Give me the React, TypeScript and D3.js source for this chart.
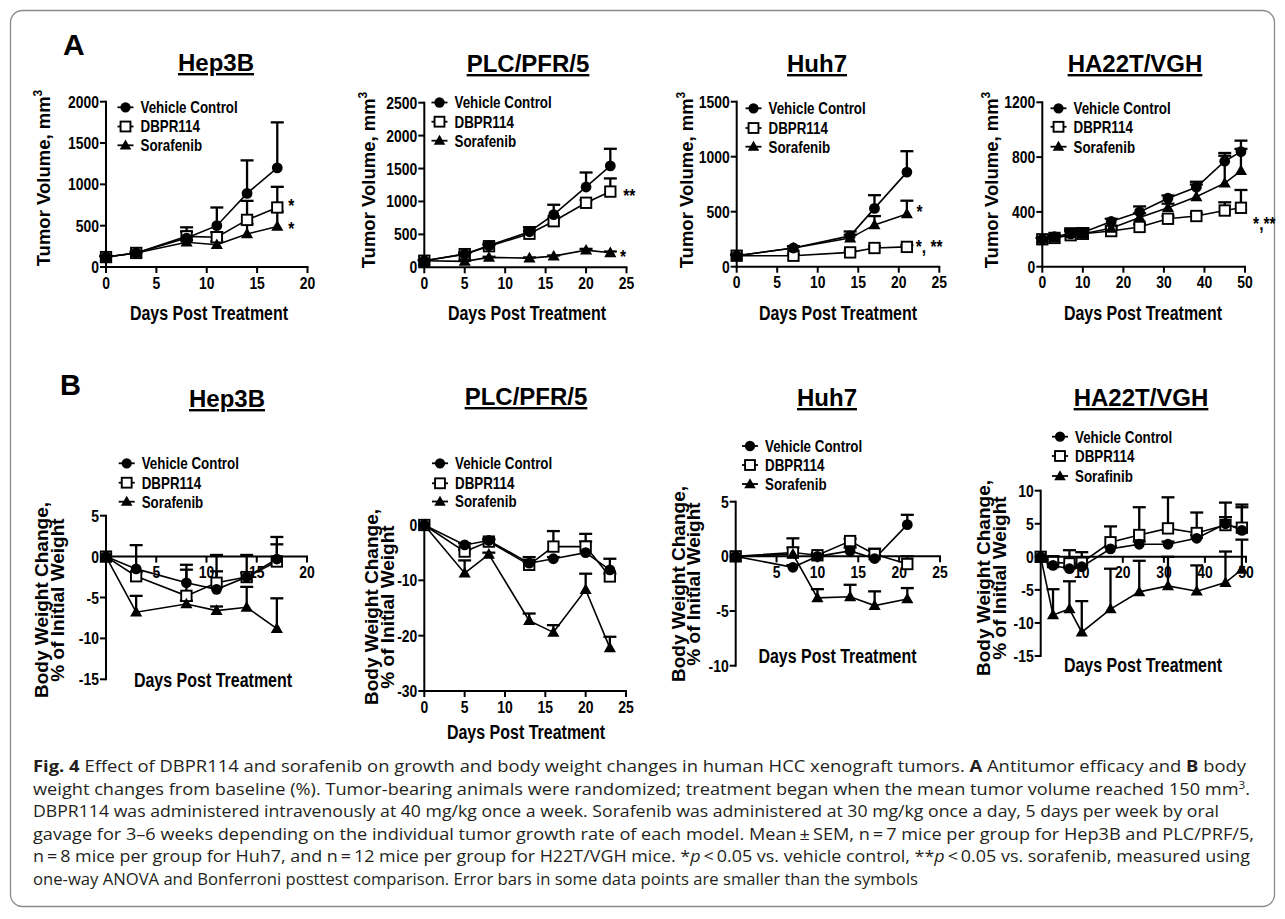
import React from "react";
import * as d3 from "d3";

// ---------------- DATA ----------------
const legendNames = ["Vehicle Control", "DBPR114", "Sorafenib"];
const legendNamesHA22TBody = ["Vehicle Control", "DBPR114", "Sorafinib"];
const cellLines = ["Hep3B", "PLC/PFR/5", "Huh7", "HA22T/VGH"];

// A: tumor volume (mm3)
const hep3bTumorDays = [0, 3, 8, 11, 14, 17];
const hep3bTumorVehicle = [120, 170, 350, 500, 890, 1200];
const hep3bTumorVehicleErr = [15, 15, 130, 220, 400, 550];
const hep3bTumorDbpr = [120, 170, 370, 360, 570, 720];
const hep3bTumorDbprErr = [10, 10, 60, 60, 230, 250];
const hep3bTumorSora = [120, 170, 300, 270, 400, 490];
const hep3bTumorSoraErr = [10, 10, 30, 40, 120, 180];

const plcTumorDays = [0, 5, 8, 13, 16, 20, 23];
const plcTumorVehicle = [100, 200, 330, 540, 800, 1220, 1540];
const plcTumorVehicleErr = [10, 20, 30, 70, 150, 220, 260];
const plcTumorDbpr = [100, 200, 320, 510, 700, 980, 1150];
const plcTumorDbprErr = [10, 20, 20, 40, 40, 40, 200];
const plcTumorSora = [100, 90, 150, 140, 170, 260, 220];
const plcTumorSoraErr = [10, 10, 10, 10, 10, 20, 20];

const huh7TumorDays = [0, 7, 14, 17, 21];
const huh7TumorVehicle = [100, 170, 280, 530, 860];
const huh7TumorVehicleErr = [10, 15, 40, 120, 190];
const huh7TumorDbpr = [100, 100, 130, 170, 180];
const huh7TumorDbprErr = [5, 10, 10, 15, 15];
const huh7TumorSora = [100, 170, 260, 380, 480];
const huh7TumorSoraErr = [10, 15, 30, 80, 120];

const ha22tTumorDays = [0, 3, 7, 10, 17, 24, 31, 38, 45, 49];
const ha22tTumorVehicle = [200, 220, 240, 250, 330, 400, 500, 580, 770, 840];
const ha22tTumorVehicleErr = [10, 10, 40, 30, 20, 40, 20, 40, 60, 80];
const ha22tTumorDbpr = [200, 210, 230, 240, 260, 290, 350, 370, 410, 430];
const ha22tTumorDbprErr = [10, 10, 40, 40, 20, 20, 20, 20, 60, 130];
const ha22tTumorSora = [200, 210, 240, 240, 280, 360, 430, 510, 610, 700];
const ha22tTumorSoraErr = [10, 10, 20, 20, 20, 30, 30, 90, 200, 160];

// B: body weight change (%)
const hep3bBodyDays = [0, 3, 8, 11, 14, 17];
const hep3bBodyVehicle = [0, -1.5, -3.2, -4.0, -2.5, -0.3];
const hep3bBodyVehicleErr = [0, 2.9, 2.2, 4.2, 2.7, 2.7];
const hep3bBodyDbpr = [0, -2.4, -4.8, -3.2, -2.5, -0.6];
const hep3bBodyDbprErr = [0, 0.5, 3.2, 1.4, 0.5, 2.1];
const hep3bBodySora = [0, -6.8, -5.8, -6.6, -6.2, -8.8];
const hep3bBodySoraErr = [0, 2.0, 0.4, 0.5, 2.5, 3.7];

const plcBodyDays = [0, 5, 8, 13, 16, 20, 23];
const plcBodyVehicle = [0, -3.6, -2.8, -6.9, -6.1, -5.0, -8.1];
const plcBodyVehicleErr = [0, 0.3, 0.3, 1.1, 0.3, 2.0, 2.0];
const plcBodyDbpr = [0, -4.8, -3.0, -7.2, -3.9, -3.9, -9.3];
const plcBodyDbprErr = [0, 0.3, 0.3, 0.5, 2.8, 2.3, 0.5];
const plcBodySora = [0, -8.7, -5.3, -17.3, -19.4, -11.7, -22.2];
const plcBodySoraErr = [0, 2.3, 0.3, 1.3, 1.3, 2.9, 2.0];

const huh7BodyDays = [0, 7, 10, 14, 17, 21];
const huh7BodyVehicle = [0, -1.0, 0, 0.5, -0.2, 2.9];
const huh7BodyVehicleErr = [0, 0.2, 0.2, 0.3, 0.3, 0.9];
const huh7BodyDbpr = [0, 0.35, 0.1, 1.4, 0.2, -0.7];
const huh7BodyDbprErr = [0, 1.3, 0.2, 0.2, 0.5, 0.7];
const huh7BodySora = [0, 0.2, -3.8, -3.7, -4.5, -3.9];
const huh7BodySoraErr = [0, 0.6, 0.8, 1.1, 1.3, 1.0];

const ha22tBodyDays = [0, 3, 7, 10, 17, 24, 31, 38, 45, 49];
const ha22tBodyVehicle = [0, -1.3, -1.8, -1.5, 1.2, 1.9, 1.9, 2.8, 5.0, 4.0];
const ha22tBodyVehicleErr = [0, 0.3, 0.3, 0.3, 0.4, 0.4, 0.4, 0.5, 1.0, 3.5];
const ha22tBodyDbpr = [0, -0.8, -1.0, -0.9, 2.2, 3.3, 4.3, 3.6, 4.8, 4.4];
const ha22tBodyDbprErr = [0, 0.9, 2.0, 1.6, 2.4, 4.2, 4.7, 3.1, 3.4, 3.5];
const ha22tBodySora = [0, -8.8, -7.9, -11.4, -7.9, -5.3, -4.4, -5.2, -3.9, -1.9];
const ha22tBodySoraErr = [0, 3.9, 4.2, 4.7, 6.1, 4.7, 4.4, 3.9, 4.7, 4.5];

// tick values
const ticks0to20 = [0, 5, 10, 15, 20];
const ticks0to25 = [0, 5, 10, 15, 20, 25];
const ticks0to50 = [0, 10, 20, 30, 40, 50];
const hep3bTumorYTicks = [0, 500, 1000, 1500, 2000];
const plcTumorYTicks = [0, 500, 1000, 1500, 2000, 2500];
const huh7TumorYTicks = [0, 500, 1000, 1500];
const ha22tTumorYTicks = [0, 400, 800, 1200];
const hep3bBodyYTicks = [-15, -10, -5, 0, 5];
const plcBodyYTicks = [-30, -20, -10, 0];
const huh7BodyYTicks = [-10, -5, 0, 5];
const ha22tBodyYTicks = [-15, -10, -5, 0, 5, 10];

// ---------------- HELPERS ----------------
const FONT = "'Liberation Sans', Arial, Helvetica, sans-serif";
const NARROW = 0.82;

function NText({ x, y, size, anchor = "start", children }: any) {
  return (
    <text
      transform={`translate(${x},${y}) scale(${NARROW},1)`}
      fontSize={size}
      textAnchor={anchor}
      fontWeight="bold"
      fontFamily={FONT}
      fill="#000"
    >
      {children}
    </text>
  );
}

type Shape = "circle" | "square" | "triangle";
const shapes: Shape[] = ["circle", "square", "triangle"];

function Marker({ shape, x, y, s = 1 }: { shape: Shape; x: number; y: number; s?: number }) {
  if (shape === "circle") return <circle cx={x} cy={y} r={5.4 * s} fill="#000" />;
  if (shape === "square")
    return (
      <rect x={x - 5.2 * s} y={y - 5.2 * s} width={10.4 * s} height={10.4 * s} fill="#fff" stroke="#000" strokeWidth={1.9} />
    );
  const p = d3.symbol(d3.symbolTriangle, 64 * s * s)() as string;
  return <path d={p} transform={`translate(${x},${y + 0.8})`} fill="#000" />;
}

function Panel(p: any) {
  const xs = d3.scaleLinear().domain(p.xDomain).range(p.xRange);
  const ys = d3.scaleLinear().domain(p.yDomain).range(p.yRange);
  const axisY = ys(p.xAxisAt);
  const axisX = xs(p.xDomain[0]);
  const line = d3
    .line<[number, number]>()
    .x((d) => xs(d[0]))
    .y((d) => ys(d[1]));
  const series = p.series as { values: number[]; errs: number[] }[];
  const drawOrder = [1, 0, 2];
  return (
    <g>
      <text x={p.titleX} y={p.titleY} textAnchor="middle" fontSize={24} fontWeight="bold" fontFamily={FONT} textDecoration="underline">
        {p.title}
      </text>
      {p.yTitleLines.map((t: string, i: number) => (
        <text
          key={i}
          transform={`translate(${p.yTitleX[i]},${p.yTitleY}) rotate(-90)`}
          textAnchor="middle"
          fontSize={p.yTitleSize}
          fontWeight="bold"
          fontFamily={FONT}
        >
          {t}
          {p.yTitleSup && i === 0 ? (
            <tspan dy={-8} fontSize={12}>
              {p.yTitleSup}
            </tspan>
          ) : null}
        </text>
      ))}
      <NText x={p.xTitleX} y={p.xTitleY} size={19.5} anchor="middle">
        Days Post Treatment
      </NText>
      <line x1={axisX} x2={axisX} y1={ys(p.yDomain[0])} y2={ys(p.yDomain[1])} stroke="#000" strokeWidth={2} strokeLinecap="square" />
      <line x1={xs(p.xDomain[0])} x2={xs(p.xDomain[1])} y1={axisY} y2={axisY} stroke="#000" strokeWidth={2} strokeLinecap="square" />
      {p.yTicks.map((t: number) => (
        <g key={"yt" + t}>
          <line x1={axisX - 6} x2={axisX} y1={ys(t)} y2={ys(t)} stroke="#000" strokeWidth={2} />
          <NText x={axisX - 7} y={ys(t) + 6} size={17} anchor="end">
            {t}
          </NText>
        </g>
      ))}
      {p.xTicks.map((t: number) => (
        <g key={"xt" + t}>
          <line x1={xs(t)} x2={xs(t)} y1={axisY} y2={axisY + 6} stroke="#000" strokeWidth={2} />
          {p.xTickLabels.includes(t) ? (
            <NText x={xs(t)} y={axisY + 21.5} size={17} anchor="middle">
              {t}
            </NText>
          ) : null}
        </g>
      ))}
      {series.map((s, i) => (
        <path
          key={"l" + i}
          d={line(p.days.map((d: number, j: number) => [d, s.values[j]] as [number, number])) as string}
          fill="none"
          stroke="#000"
          strokeWidth={1.6}
        />
      ))}
      {series.map((s, i) =>
        p.days.map((d: number, j: number) =>
          s.errs[j] > 0 ? (
            <g key={`e${i}-${j}`} stroke="#000" strokeWidth={2.3}>
              <line x1={xs(d)} x2={xs(d)} y1={ys(s.values[j])} y2={ys(s.values[j] + s.errs[j])} />
              <line x1={xs(d) - 6.5} x2={xs(d) + 6.5} y1={ys(s.values[j] + s.errs[j])} y2={ys(s.values[j] + s.errs[j])} />
            </g>
          ) : null
        )
      )}
      {drawOrder.map((i) =>
        p.days.map((d: number, j: number) => (
          <Marker key={`m${i}-${j}`} shape={shapes[i]} x={xs(d)} y={ys(series[i].values[j])} />
        ))
      )}
      {p.legendNames.map((n: string, i: number) => {
        const y = p.legendY[i];
        return (
          <g key={"lg" + i}>
            <line x1={p.legendX - 8} x2={p.legendX + 8} y1={y} y2={y} stroke="#000" strokeWidth={1.8} />
            <Marker shape={shapes[i]} x={p.legendX} y={y} s={0.95} />
            <NText x={p.legendX + 15} y={y + 5.8} size={16.3}>
              {n}
            </NText>
          </g>
        );
      })}
      {(p.notes || []).map((n: any, i: number) => (
        <NText key={"n" + i} x={xs(n.day)} y={ys(n.val) + 10} size={19}>
          {n.text}
        </NText>
      ))}
    </g>
  );
}

const mk = (v: number[], e: number[]) => ({ values: v, errs: e });

const tumorTitle = ["Tumor Volume, mm"];
const bodyTitle = ["Body Weight Change,", "% of Initial Weight"];

const panels = [
  {
    title: cellLines[0], titleX: 216, titleY: 71,
    days: hep3bTumorDays,
    series: [mk(hep3bTumorVehicle, hep3bTumorVehicleErr), mk(hep3bTumorDbpr, hep3bTumorDbprErr), mk(hep3bTumorSora, hep3bTumorSoraErr)],
    xDomain: [0, 20], xRange: [106, 307.5], yDomain: [0, 2000], yRange: [267, 101.7], xAxisAt: 0,
    xTicks: ticks0to20, xTickLabels: ticks0to20, yTicks: hep3bTumorYTicks,
    yTitleLines: tumorTitle, yTitleSup: "3", yTitleX: [50], yTitleY: 178, yTitleSize: 18.5,
    xTitleX: 209, xTitleY: 320,
    legendNames, legendX: 125.5, legendY: [107.3, 126.5, 145.3],
    notes: [{ day: 18.1, val: 790, text: "*" }, { day: 18.1, val: 510, text: "*" }],
  },
  {
    title: cellLines[1], titleX: 528, titleY: 72,
    days: plcTumorDays,
    series: [mk(plcTumorVehicle, plcTumorVehicleErr), mk(plcTumorDbpr, plcTumorDbprErr), mk(plcTumorSora, plcTumorSoraErr)],
    xDomain: [0, 25], xRange: [424.3, 626.5], yDomain: [0, 2500], yRange: [267.3, 102.7], xAxisAt: 0,
    xTicks: ticks0to25, xTickLabels: ticks0to25, yTicks: plcTumorYTicks,
    yTitleLines: tumorTitle, yTitleSup: "3", yTitleX: [375], yTitleY: 180, yTitleSize: 18.5,
    xTitleX: 527, xTitleY: 320,
    legendNames, legendX: 439.5, legendY: [102.5, 121.7, 140.7],
    notes: [{ day: 24.6, val: 1150, text: "**" }, { day: 24.2, val: 220, text: "*" }],
  },
  {
    title: cellLines[2], titleX: 817, titleY: 72,
    days: huh7TumorDays,
    series: [mk(huh7TumorVehicle, huh7TumorVehicleErr), mk(huh7TumorDbpr, huh7TumorDbprErr), mk(huh7TumorSora, huh7TumorSoraErr)],
    xDomain: [0, 25], xRange: [736.7, 939.3], yDomain: [0, 1500], yRange: [266.7, 101.7], xAxisAt: 0,
    xTicks: ticks0to25, xTickLabels: ticks0to25, yTicks: huh7TumorYTicks,
    yTitleLines: tumorTitle, yTitleSup: "3", yTitleX: [693], yTitleY: 180, yTitleSize: 18.5,
    xTitleX: 838, xTitleY: 320,
    legendNames, legendX: 753.5, legendY: [108.3, 128, 146.7],
    notes: [{ day: 22.2, val: 530, text: "*" }, { day: 22.1, val: 218, text: "*, **" }],
  },
  {
    title: cellLines[3], titleX: 1135, titleY: 72,
    days: ha22tTumorDays,
    series: [mk(ha22tTumorVehicle, ha22tTumorVehicleErr), mk(ha22tTumorDbpr, ha22tTumorDbprErr), mk(ha22tTumorSora, ha22tTumorSoraErr)],
    xDomain: [0, 50], xRange: [1042.3, 1245], yDomain: [0, 1200], yRange: [266.7, 102.3], xAxisAt: 0,
    xTicks: ticks0to50, xTickLabels: ticks0to50, yTicks: ha22tTumorYTicks,
    yTitleLines: tumorTitle, yTitleSup: "3", yTitleX: [998], yTitleY: 180, yTitleSize: 18.5,
    xTitleX: 1143, xTitleY: 320,
    legendNames, legendX: 1058.5, legendY: [108.3, 126.8, 146.7],
    notes: [{ day: 52, val: 340, text: "*,**" }],
  },
  {
    title: cellLines[0], titleX: 227, titleY: 407,
    days: hep3bBodyDays,
    series: [mk(hep3bBodyVehicle, hep3bBodyVehicleErr), mk(hep3bBodyDbpr, hep3bBodyDbprErr), mk(hep3bBodySora, hep3bBodySoraErr)],
    xDomain: [0, 20], xRange: [106, 307], yDomain: [-15, 5], yRange: [679.3, 515.7], xAxisAt: 0,
    xTicks: ticks0to20, xTickLabels: [5, 10, 15, 20], yTicks: hep3bBodyYTicks,
    yTitleLines: bodyTitle, yTitleX: [48, 64], yTitleY: 600, yTitleSize: 19,
    xTitleX: 213, xTitleY: 687,
    legendNames, legendX: 126.7, legendY: [463.3, 482.7, 501.7],
  },
  {
    title: cellLines[1], titleX: 526, titleY: 405,
    days: plcBodyDays,
    series: [mk(plcBodyVehicle, plcBodyVehicleErr), mk(plcBodyDbpr, plcBodyDbprErr), mk(plcBodySora, plcBodySoraErr)],
    xDomain: [0, 25], xRange: [424.3, 626], yDomain: [-30, 0], yRange: [691, 525], xAxisAt: -30,
    xTicks: ticks0to25, xTickLabels: ticks0to25, yTicks: plcBodyYTicks,
    yTitleLines: bodyTitle, yTitleX: [378, 394], yTitleY: 607, yTitleSize: 19,
    xTitleX: 526, xTitleY: 739,
    legendNames, legendX: 440, legendY: [463.3, 483.3, 501.5],
  },
  {
    title: cellLines[2], titleX: 827, titleY: 406,
    days: huh7BodyDays,
    series: [mk(huh7BodyVehicle, huh7BodyVehicleErr), mk(huh7BodyDbpr, huh7BodyDbprErr), mk(huh7BodySora, huh7BodySoraErr)],
    xDomain: [0, 25], xRange: [735.7, 940], yDomain: [-10, 5], yRange: [665.7, 501.7], xAxisAt: 0,
    xTicks: ticks0to25, xTickLabels: [5, 10, 15, 20, 25], yTicks: huh7BodyYTicks,
    yTitleLines: bodyTitle, yTitleX: [685, 700], yTitleY: 584, yTitleSize: 19,
    xTitleX: 837.5, xTitleY: 663,
    legendNames, legendX: 750, legendY: [446, 465, 484],
  },
  {
    title: cellLines[3], titleX: 1141, titleY: 406,
    days: ha22tBodyDays,
    series: [mk(ha22tBodyVehicle, ha22tBodyVehicleErr), mk(ha22tBodyDbpr, ha22tBodyDbprErr), mk(ha22tBodySora, ha22tBodySoraErr)],
    xDomain: [0, 50], xRange: [1040.7, 1246], yDomain: [-15, 10], yRange: [656, 490.7], xAxisAt: 0,
    xTicks: ticks0to50, xTickLabels: [10, 20, 30, 40, 50], yTicks: ha22tBodyYTicks,
    yTitleLines: bodyTitle, yTitleX: [990, 1006], yTitleY: 578, yTitleSize: 19,
    xTitleX: 1143, xTitleY: 672,
    legendNames: legendNamesHA22TBody, legendX: 1060, legendY: [436.7, 456, 476],
  },
];

const CAP_FONT = "'Open Sans', 'Noto Sans', sans-serif";

export default function App() {
  const capX = 33;
  const capSize = 15.5;
  return (
    <svg width={1285} height={919} style={{ position: "absolute", left: 0, top: 0, background: "#fff" }}>
      <rect x={0} y={0} width={1285} height={919} fill="#fff" />
      <rect x={10.5} y={10.5} width={1264} height={896} rx={12} fill="none" stroke="#8a8a8a" strokeWidth={1.3} />
      <text x={63} y={55} fontSize={30} fontWeight="bold" fontFamily={FONT}>A</text>
      <text x={60} y={395} fontSize={29} fontWeight="bold" fontFamily={FONT}>B</text>
      {panels.map((p, i) => (
        <Panel key={i} {...p} />
      ))}
      <g fontFamily={CAP_FONT} fontSize={capSize} fill="#231f20">
        <text x={capX} y={772} textLength={1213} lengthAdjust="spacingAndGlyphs">
          <tspan fontWeight="bold">Fig. 4</tspan>
          {"  Effect of DBPR114 and sorafenib on growth and body weight changes in human HCC xenograft tumors. "}
          <tspan fontWeight="bold">A</tspan>
          {" Antitumor efficacy and "}
          <tspan fontWeight="bold">B</tspan>
          {" body"}
        </text>
        <text x={capX} y={794.5} textLength={1217} lengthAdjust="spacingAndGlyphs">
          {"weight changes from baseline (%). Tumor-bearing animals were randomized; treatment began when the mean tumor volume reached 150 mm"}
          <tspan dy={-6} fontSize={10}>3</tspan>
          <tspan dy={6}>.</tspan>
        </text>
        <text x={capX} y={817} textLength={1186} lengthAdjust="spacingAndGlyphs">
          DBPR114 was administered intravenously at 40 mg/kg once a week. Sorafenib was administered at 30 mg/kg once a day, 5 days per week by oral
        </text>
        <text x={capX} y={839.5} textLength={1221} lengthAdjust="spacingAndGlyphs">
          {"gavage for 3–6 weeks depending on the individual tumor growth rate of each model. Mean\u2009±\u2009SEM, n\u2009=\u20097 mice per group for Hep3B and PLC/PRF/5,"}
        </text>
        <text x={capX} y={862} textLength={1217} lengthAdjust="spacingAndGlyphs">
          {"n\u2009=\u20098 mice per group for Huh7, and n\u2009=\u200912 mice per group for H22T/VGH mice. *"}
          <tspan fontStyle="italic">p</tspan>
          {"\u2009<\u20090.05 vs. vehicle control, **"}
          <tspan fontStyle="italic">p</tspan>
          {"\u2009<\u20090.05 vs. sorafenib, measured using"}
        </text>
        <text x={capX} y={884.5} textLength={885} lengthAdjust="spacingAndGlyphs">
          one-way ANOVA and Bonferroni posttest comparison. Error bars in some data points are smaller than the symbols
        </text>
      </g>
    </svg>
  );
}
